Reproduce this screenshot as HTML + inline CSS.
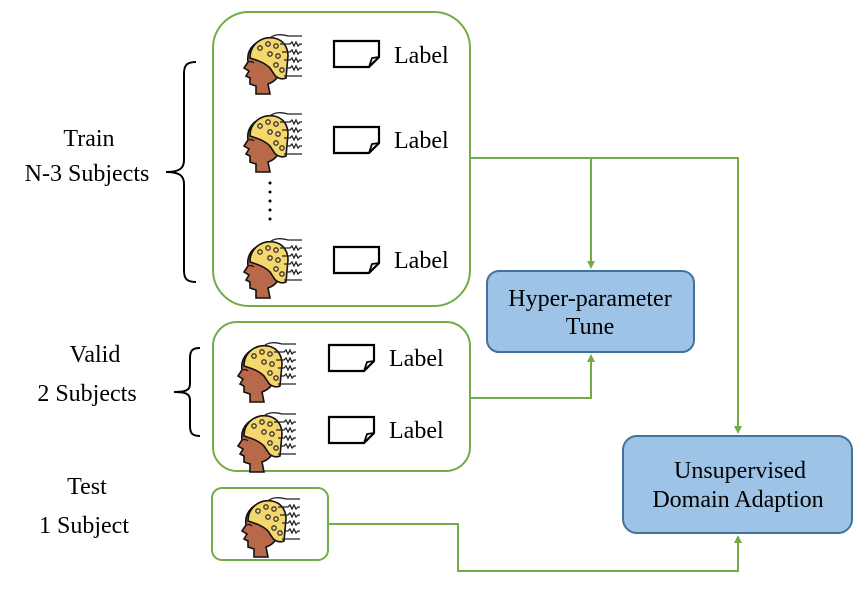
<!DOCTYPE html>
<html><head><style>
body{margin:0;background:#fff;}
svg text{font-family:"Liberation Serif",serif;font-size:24px;fill:#000;}
</style></head><body>
<svg width="865" height="598" viewBox="0 0 865 598" xmlns="http://www.w3.org/2000/svg">
<defs>
<g id="head">
  <path d="M8 30 C6 16 18 6 30 8 C38 9 42 16 42 26 L40 40 C38 46 34 50 28 52 L30 62 L16 62 L16 54 L10 52 L10 46 L6 44 L9 39 L4 36 Z" fill="#b8694a" stroke="#111" stroke-width="1.6"/>
  <path d="M10 26 C10 12 22 4 34 6 C44 8 48 16 48 24 L46 46 C42 48 36 46 34 42 L30 36 C24 30 16 28 10 26 Z" fill="#f5d76e" stroke="#111" stroke-width="1.6"/>
  <g fill="#f5d76e" stroke="#333" stroke-width="1.3">
    <circle cx="20" cy="16" r="2.2"/><circle cx="28" cy="12" r="2.2"/><circle cx="36" cy="14" r="2.2"/>
    <circle cx="30" cy="22" r="2.2"/><circle cx="38" cy="24" r="2.2"/><circle cx="36" cy="33" r="2.2"/><circle cx="42" cy="38" r="2.2"/>
  </g>
  <g fill="none" stroke="#222" stroke-width="1.3">
    <path d="M30 6 C34 2 42 2 48 4 L62 4"/>
    <path d="M40 12 L50 12 l2 -2 l2 4 l2 -4 l2 4 l2 -2 l2 0"/>
    <path d="M42 20 L50 20 l2 -2 l2 4 l2 -4 l2 4 l2 -2 l2 0"/>
    <path d="M44 28 L50 28 l2 -2 l2 4 l2 -4 l2 4 l2 -2 l2 0"/>
    <path d="M46 36 L50 36 l2 -2 l2 4 l2 -4 l2 4 l2 -2 l2 0"/>
    <path d="M44 44 L62 44"/>
  </g>
  <path d="M9 30 C11 29 13 30 14 31" stroke="#111" fill="none" stroke-width="1.2"/>
</g>
<g id="doc">
  <path d="M1 1 L46 1 L46 17 L36 27 L1 27 Z" fill="#fff" stroke="#000" stroke-width="2.2"/>
  <path d="M46 17 L39 18 L36 27" fill="none" stroke="#000" stroke-width="1.8"/>
</g>
<marker id="ar" markerWidth="8" markerHeight="8" refX="4" refY="4" orient="auto" markerUnits="userSpaceOnUse">
  <path d="M0 0 L8 4 L0 8 Z" fill="#70ad47"/>
</marker>
</defs>

<rect x="213" y="12" width="257" height="294" rx="36" fill="#fff" stroke="#70ad47" stroke-width="2"/>
<rect x="213" y="322" width="257" height="149" rx="24" fill="#fff" stroke="#70ad47" stroke-width="2"/>
<rect x="212" y="488" width="116" height="72" rx="10" fill="#fff" stroke="#70ad47" stroke-width="2"/>
<rect x="487" y="271" width="207" height="81" rx="12" fill="#9dc3e6" stroke="#41719c" stroke-width="2"/>
<rect x="623" y="436" width="229" height="97" rx="14" fill="#9dc3e6" stroke="#41719c" stroke-width="2"/>

<g fill="none" stroke="#70ad47" stroke-width="2">
  <path d="M470 158 L738 158 L738 430" marker-end="url(#ar)"/>
  <path d="M591 158 L591 265" marker-end="url(#ar)"/>
  <path d="M470 398 L591 398 L591 358" marker-end="url(#ar)"/>
  <path d="M328 524 L458 524 L458 571 L738 571 L738 539" marker-end="url(#ar)"/>
</g>

<g fill="none" stroke="#000" stroke-width="2">
  <path d="M196 62 C186 62 184 66 184 74 L184 160 C184 168 180 172 166 172 C180 172 184 176 184 184 L184 270 C184 278 186 282 196 282"/>
  <path d="M200 348 C192 348 190 351 190 358 L190 384 C190 390 186 392 174 392 C186 392 190 394 190 400 L190 426 C190 433 192 436 200 436"/>
</g>
<g fill="#000"><circle cx="270" cy="183" r="1.5"/><circle cx="270" cy="192" r="1.5"/><circle cx="270" cy="201" r="1.5"/><circle cx="270" cy="210" r="1.5"/><circle cx="270" cy="219" r="1.5"/></g>

<use href="#head" x="240" y="32"/>
<use href="#head" x="240" y="110"/>
<use href="#head" x="240" y="236"/>
<use href="#head" x="234" y="340"/>
<use href="#head" x="234" y="410"/>
<use href="#head" x="238" y="495"/>
<use href="#doc" x="333" y="40"/>
<use href="#doc" x="333" y="126"/>
<use href="#doc" x="333" y="246"/>
<use href="#doc" x="328" y="344"/>
<use href="#doc" x="328" y="416"/>

<text x="394" y="63">Label</text>
<text x="394" y="148">Label</text>
<text x="394" y="268">Label</text>
<text x="389" y="366">Label</text>
<text x="389" y="438">Label</text>

<text x="89" y="146" text-anchor="middle">Train</text>
<text x="87" y="181" text-anchor="middle">N-3 Subjects</text>
<text x="95" y="362" text-anchor="middle">Valid</text>
<text x="87" y="401" text-anchor="middle">2 Subjects</text>
<text x="87" y="494" text-anchor="middle">Test</text>
<text x="84" y="533" text-anchor="middle">1 Subject</text>

<text x="590" y="306" text-anchor="middle">Hyper-parameter</text>
<text x="590" y="334" text-anchor="middle">Tune</text>
<text x="740" y="478" text-anchor="middle">Unsupervised</text>
<text x="738" y="507" text-anchor="middle">Domain Adaption</text>
</svg>
</body></html>
